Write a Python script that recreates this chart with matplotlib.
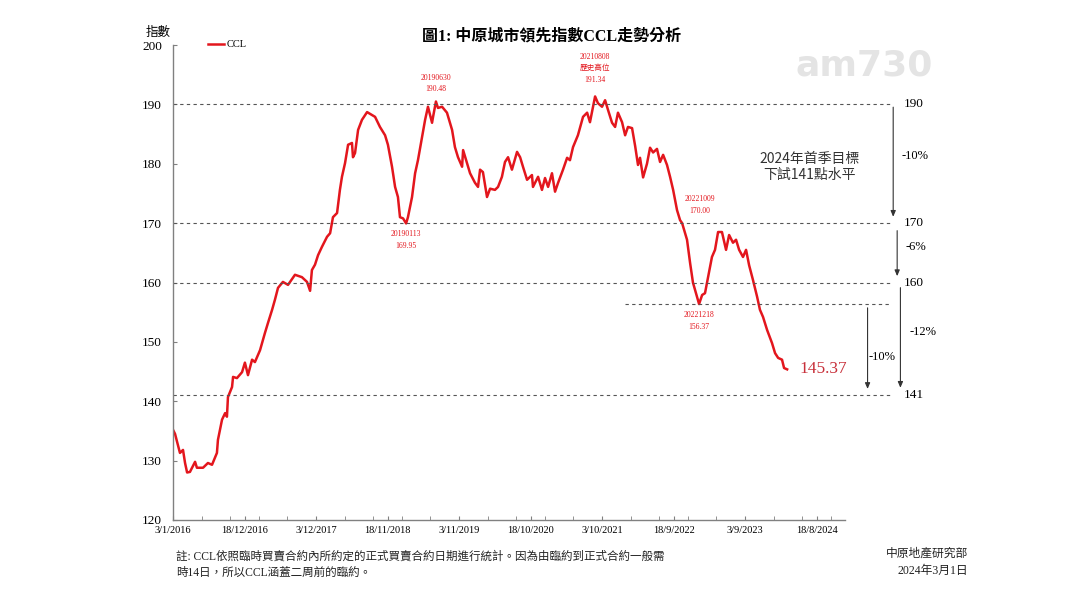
import pandas as pd
import matplotlib
matplotlib.use("Agg")
import matplotlib.pyplot as plt
import matplotlib.dates as mdates

plt.rcParams['font.family'] = ['Liberation Serif', 'Noto Sans CJK TC', 'DejaVu Sans']

# CCL weekly index
ccl_dates = [
    "2016-01-03", "2016-01-13", "2016-02-06", "2016-02-21", "2016-03-02", "2016-03-12", "2016-03-26",
    "2016-04-20", "2016-04-29", "2016-05-29", "2016-06-22", "2016-07-12", "2016-08-05", "2016-08-10",
    "2016-08-30", "2016-09-14", "2016-09-23", "2016-09-28", "2016-10-18", "2016-10-23", "2016-11-11",
    "2016-12-06", "2016-12-20", "2017-01-04", "2017-01-24", "2017-02-07", "2017-03-04", "2017-03-28",
    "2017-04-12", "2017-05-02", "2017-05-16", "2017-05-31", "2017-06-24", "2017-07-19", "2017-08-22",
    "2017-09-25", "2017-10-20", "2017-11-04", "2017-11-13", "2017-11-28", "2017-12-13", "2018-01-01",
    "2018-01-26", "2018-02-10", "2018-02-24", "2018-03-16", "2018-03-30", "2018-04-09", "2018-04-24",
    "2018-05-09", "2018-05-28", "2018-06-02", "2018-06-12", "2018-06-27", "2018-07-16", "2018-08-10",
    "2018-09-03", "2018-09-18", "2018-10-12", "2018-11-06", "2018-11-20", "2018-12-10", "2018-12-25",
    "2019-01-08", "2019-01-18", "2019-02-02", "2019-02-17", "2019-02-26", "2019-03-18", "2019-04-02",
    "2019-04-16", "2019-05-06", "2019-05-21", "2019-06-04", "2019-06-24", "2019-06-29", "2019-07-13",
    "2019-07-23", "2019-08-12", "2019-09-05", "2019-09-30", "2019-10-14", "2019-10-29", "2019-11-18",
    "2019-11-23", "2019-12-12", "2019-12-27", "2020-01-20", "2020-02-04", "2020-02-14", "2020-02-28",
    "2020-03-19", "2020-04-03", "2020-04-27", "2020-05-12", "2020-05-31", "2020-06-15", "2020-06-30",
    "2020-07-19", "2020-08-13", "2020-08-28", "2020-09-11", "2020-10-01", "2020-10-25", "2020-10-30",
    "2020-11-24", "2020-12-13", "2020-12-28", "2021-01-12", "2021-01-31", "2021-02-15", "2021-03-02",
    "2021-03-26", "2021-04-15", "2021-04-29", "2021-05-14", "2021-06-07", "2021-07-02", "2021-07-22",
    "2021-08-05", "2021-08-30", "2021-09-13", "2021-10-03", "2021-10-18", "2021-11-01", "2021-11-21",
    "2021-12-06", "2021-12-20", "2022-01-09", "2022-01-24", "2022-02-07", "2022-02-27", "2022-03-14",
    "2022-03-28", "2022-04-07", "2022-04-22", "2022-05-11", "2022-05-26", "2022-06-10", "2022-06-29",
    "2022-07-14", "2022-07-29", "2022-08-17", "2022-09-01", "2022-09-16", "2022-10-05", "2022-10-20",
    "2022-10-30", "2022-11-23", "2022-12-08", "2022-12-22", "2023-01-11", "2023-01-21", "2023-02-05",
    "2023-02-19", "2023-03-06", "2023-03-25", "2023-04-09", "2023-04-24", "2023-05-13", "2023-06-02",
    "2023-06-17", "2023-07-06", "2023-07-21", "2023-08-05", "2023-08-24", "2023-09-08", "2023-09-23",
    "2023-10-12", "2023-11-01", "2023-11-15", "2023-11-30", "2023-12-20", "2024-01-13", "2024-01-28",
    "2024-02-12", "2024-03-02", "2024-03-12", "2024-03-27",
]
ccl_values = [
    135.2, 134.5, 131.3, 131.8, 129.6, 128.0, 128.1,
    129.8, 128.8, 128.8, 129.6, 129.3, 131.3, 133.5,
    136.9, 138.0, 137.4, 140.7, 142.4, 144.1, 143.9,
    144.9, 146.5, 144.4, 147.0, 146.6, 148.6, 151.5,
    153.2, 155.4, 157.1, 159.1, 160.1, 159.6, 161.3,
    160.9, 160.1, 158.6, 162.1, 163.0, 164.6, 166.0,
    167.7, 168.3, 171.0, 171.7, 175.6, 177.8, 180.1,
    183.2, 183.5, 181.1, 181.8, 185.7, 187.4, 188.7,
    188.2, 187.9, 186.2, 184.8, 183.2, 179.5, 176.1,
    174.4, 171.0, 170.8, 169.95, 171.0, 174.4, 178.4,
    180.6, 184.5, 187.4, 189.6, 186.9, 187.9, 190.48,
    189.4, 189.6, 188.6, 185.7, 182.8, 181.1, 179.5,
    182.3, 180.1, 178.4, 176.8, 176.1, 179.0, 178.6,
    174.4, 175.8, 175.6, 176.1, 177.8, 180.3, 181.1,
    179.0, 182.0, 181.1, 179.5, 177.3, 178.1, 176.1,
    177.8, 175.6, 177.6, 176.1, 178.4, 175.3, 176.8,
    179.0, 181.0, 180.6, 182.8, 184.8, 187.9, 188.6,
    187.0, 191.34, 190.2, 189.6, 190.7, 189.1, 186.9,
    186.2, 188.6, 187.0, 184.8, 186.2, 186.0, 183.0,
    179.8, 181.0, 177.7, 180.0, 182.7, 181.9, 182.5,
    180.3, 181.5, 179.8, 177.8, 175.6, 172.2, 170.5,
    170.0, 167.2, 163.3, 160.0, 157.6, 156.37, 157.9,
    158.2, 160.9, 164.3, 165.5, 168.5, 168.5, 165.5,
    168.0, 166.7, 167.2, 165.5, 164.3, 165.5, 162.9,
    160.4, 157.6, 155.4, 154.2, 152.0, 149.8, 148.1,
    147.3, 147.0, 145.6, 145.37,
]

tick_dates = ["2016-01-03", "2016-12-18", "2017-12-03", "2018-11-18", "2019-11-03",
              "2020-10-18", "2021-10-03", "2022-09-18", "2023-09-03", "2024-08-18"]
tick_labels = ["3/1/2016", "18/12/2016", "3/12/2017", "18/11/2018", "3/11/2019",
               "18/10/2020", "3/10/2021", "18/9/2022", "3/9/2023", "18/8/2024"]

levels = [190, 170, 160, 141]
level_labels = ["190", "170", "160", "141"]
drop_labels = ["-10%", "-6%", "-12%"]
low_2022 = 156.37

# (date, value, label, text offset in points)
peaks = [("2019-02-17", 169.95, "20190113\n169.95", (0, -5), 'top'),
         ("2019-07-13", 190.48, "20190630\n190.48", (0, 6), 'bottom'),
         ("2021-08-30", 191.34, "20210808\n歷史高位\n191.34", (0, 9), 'bottom'),
         ("2022-10-30", 170.00, "20221009\n170.00", (13, 6), 'bottom'),
         ("2023-01-21", 156.37, "20221218\n156.37", (0, -5), 'top')]

red = '#e3161d'
W, H = 1080, 608
fig = plt.figure(figsize=(W / 100, H / 100), dpi=100)
ax = fig.add_axes([173 / W, 1 - 520 / H, (895 - 173) / W, 475 / H])

x = pd.to_datetime(ccl_dates)
ax.plot(x, ccl_values, color=red, lw=1.8, label='CCL', solid_joinstyle='round')

ax.set_ylim(120, 200)
ax.set_xlim(pd.Timestamp("2016-01-03"), pd.Timestamp("2025-09-06"))
ax.set_yticks(range(120, 201, 10))
ax.set_xticks(pd.to_datetime(tick_dates))
ax.set_xticklabels(tick_labels, fontsize=7.5)
minor = pd.date_range("2016-01-03", "2025-01-04", freq="140D")
ax.set_xticks(minor, minor=True)
ax.tick_params(axis='y', direction='in', length=3, labelsize=9.5, pad=8, color='#808080')
ax.tick_params(axis='x', which='both', direction='in', length=3, color='#808080', pad=4)

for s in ['top', 'right']:
    ax.spines[s].set_visible(False)
for s in ['left', 'bottom']:
    ax.spines[s].set_color('#808080')
    ax.spines[s].set_linewidth(1.0)
ax.spines['bottom'].set_bounds(mdates.date2num(pd.Timestamp("2016-01-03")),
                               mdates.date2num(pd.Timestamp("2025-01-04")))

# reference levels
for lv in levels:
    ax.axhline(lv, xmin=0, xmax=0.993, color='#555555', lw=0.8, ls=(0, (3, 3)))
ax.axhline(low_2022, xmin=(625 - 173) / 722, xmax=0.993, color='#555555', lw=0.8, ls=(0, (3, 3)))

for lv, lab in zip(levels, level_labels):
    ax.text(1.012, lv, lab, transform=ax.get_yaxis_transform(), fontsize=9.5,
            va='center', ha='left', clip_on=False)

arrow_kw = dict(arrowstyle='-|>,head_length=0.35,head_width=0.15', color='#333333', lw=0.8)
spans = [(0.9975, 190, 170.6), (1.003, 169.2, 160.6), (1.0075, 159.6, 141.8)]
for (xf, top, bot), lab in zip(spans, drop_labels):
    ax.annotate('', xy=(xf, bot), xytext=(xf, top), xycoords=('axes fraction', 'data'),
                textcoords=('axes fraction', 'data'), arrowprops=arrow_kw, annotation_clip=False)
    ax.text(xf + 0.012, (top + bot) / 2 + 1, lab, transform=ax.get_yaxis_transform(),
            fontsize=9, va='center', ha='left', clip_on=False)
ax.annotate('', xy=(0.962, 141.6), xytext=(0.962, 156.2), xycoords=('axes fraction', 'data'),
            textcoords=('axes fraction', 'data'), arrowprops=arrow_kw, annotation_clip=False)
ax.text(0.964, 147.5, "-10%", transform=ax.get_yaxis_transform(), fontsize=9,
        va='center', ha='left')

for d, v, lab, off, va in peaks:
    ax.annotate(lab, (pd.Timestamp(d), v), xytext=off, textcoords='offset points',
                ha='center', va=va, fontsize=5.5, color=red, linespacing=1.6)

ax.annotate(f"{ccl_values[-1]:.2f}", (x[-1], ccl_values[-1]), xytext=(9, 0),
            textcoords='offset points', ha='left', va='center', fontsize=12.5, color='#c8303a')

ax.text(0.882, 179.5, "2024年首季目標\n下試141點水平", transform=ax.get_yaxis_transform(),
        fontsize=10, ha='center', va='center', color='#333333', linespacing=1.2,
        family=['Noto Sans CJK TC', 'DejaVu Sans'])

leg = ax.legend(loc='upper left', bbox_to_anchor=(0.035, 1.03), frameon=False, fontsize=7.5,
                handlelength=1.6, handletextpad=0.2)

fig.text(158 / W, 1 - 32 / H, "指數", fontsize=9, ha='center', va='center',
         family=['Noto Sans CJK TC'])
fig.text(552 / W, 1 - 37 / H, "圖1: 中原城市領先指數CCL走勢分析", fontsize=11.5,
         fontweight='bold', ha='center', va='center')
fig.text(864 / W, 1 - 66 / H, "am730", fontsize=26, fontweight='bold', color='#e4e4e4',
         ha='center', va='center', family=['DejaVu Sans'])

fig.text(176 / W, 1 - 565 / H,
         "註: CCL依照臨時買賣合約內所約定的正式買賣合約日期進行統計。因為由臨約到正式合約一般需\n"
         "時14日，所以CCL涵蓋二周前的臨約。",
         fontsize=8.3, ha='left', va='center', linespacing=1.5, color='#222222')
fig.text(968 / W, 1 - 554 / H, "中原地產研究部", fontsize=8.5, ha='right', va='center',
         color='#222222')
fig.text(968 / W, 1 - 571 / H, "2024年3月1日", fontsize=8.5, ha='right', va='center',
         color='#222222')

fig.savefig("out.png", dpi=100)
